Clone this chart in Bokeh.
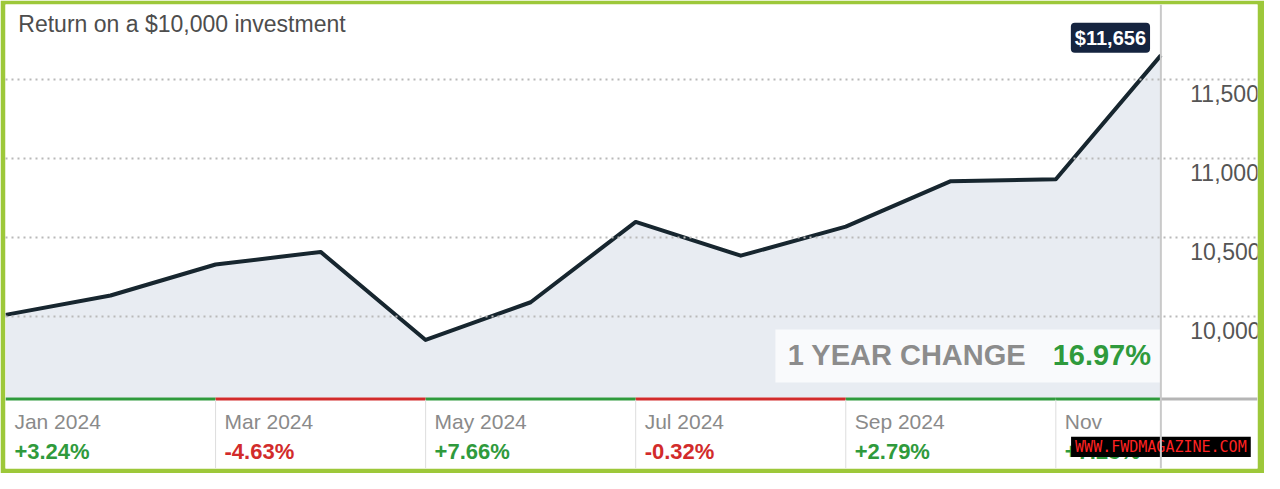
from bokeh.plotting import figure
from bokeh.models import Range1d, Grid, FixedTicker, Span, Label
from bokeh.core.properties import value
from bokeh.embed import file_html
from bokeh.resources import INLINE

# ---- data ----
month_index = [0, 1, 2, 3, 4, 5, 6, 7, 8, 9, 10, 11]
values = [10012, 10135, 10331, 10411, 9853, 10092, 10601, 10387, 10571, 10859, 10871, 11656]
y_ticks = [10000, 10500, 11000, 11500]
y_tick_labels = ["10,000", "10,500", "11,000", "11,500"]
period_labels = ["Jan 2024", "Mar 2024", "May 2024", "Jul 2024", "Sep 2024", "Nov"]
period_changes = ["+3.24%", "-4.63%", "+7.66%", "-0.32%", "+2.79%", "+7.23%"]
period_start = [0, 2, 4, 6, 8, 10]
period_end = [2, 4, 6, 8, 10, 11]
final_label = "$11,656"
year_change = "16.97%"
title_text = "Return on a $10,000 investment"
watermark = "WWW.FWDMAGAZINE.COM"

GREEN = "#2f9a3c"
RED = "#d22b2b"
FONT = "Liberation Sans"

X0, X1 = 0, 11.92
Y0, Y1 = 9039, 11978
BAND_TOP = 9488

p = figure(width=1264, height=473, output_backend="svg", toolbar_location=None,
           x_range=Range1d(X0, X1), y_range=Range1d(Y0, Y1),
           x_axis_location=None, y_axis_location=None,
           min_border_left=5, min_border_right=7, min_border_top=4, min_border_bottom=5)
p.border_fill_color = "#9dc83a"
p.background_fill_color = "white"
p.outline_line_color = None
p.grid.visible = False

# area + line
p.varea(x=month_index, y1=[BAND_TOP] * len(month_index), y2=values, fill_color="#e8ecf2")

grid = Grid(dimension=1, ticker=FixedTicker(ticks=y_ticks), grid_line_color="#b9b9b9",
            grid_line_dash="dotted", grid_line_width=2, level="guide")
p.add_layout(grid)

p.line(x=month_index, y=values, line_color="#17262f", line_width=4, line_join="round")

# latest-date divider
p.add_layout(Span(location=month_index[-1], dimension="height", line_color="#c9c9c9", line_width=2))

# y tick labels (right side, under grid line)
p.text(x=[11.28] * len(y_ticks), y=[t - 86 for t in y_ticks], text=y_tick_labels,
       text_font=value(FONT), text_font_size="23px", text_color="#555555",
       text_align="left", text_baseline="middle")

# period band
colors = [GREEN if c.startswith("+") else RED for c in period_changes]
band_y = BAND_TOP - 8
p.segment(x0=period_start, x1=period_end, y0=[band_y] * 6, y1=[band_y] * 6,
          line_color=colors, line_width=3)
p.segment(x0=[period_end[-1]], x1=[X1], y0=[band_y], y1=[band_y], line_color="#b5b5b5", line_width=3)
p.segment(x0=period_start[1:], x1=period_start[1:], y0=[band_y - 6] * 5, y1=[Y0] * 5,
          line_color="#dddddd", line_width=1)
lab_x = [s + 0.085 for s in period_start]
p.text(x=lab_x, y=[9338] * 6, text=period_labels, text_font=value(FONT),
       text_font_size="21px", text_color="#8a8a8a", text_baseline="middle")
p.text(x=lab_x, y=[9145] * 6, text=period_changes, text_font=value(FONT),
       text_font_size="22px", text_font_style="bold", text_color=colors, text_baseline="middle")

# 1 year change box
p.quad(left=[7.33], right=[11], bottom=[9583], top=[9920],
       fill_color="white", fill_alpha=0.72, line_color=None)
p.text(x=[7.447], y=[9761], text=["1 YEAR CHANGE"], text_font=value(FONT), text_font_size="29px",
       text_font_style="bold", text_color="#8c8c8c", text_baseline="middle")
p.text(x=[10.906], y=[9761], text=[year_change], text_font=value(FONT), text_font_size="29px",
       text_font_style="bold", text_color=GREEN, text_align="right", text_baseline="middle")

# title
p.text(x=[0.122], y=[11857], text=[title_text], text_font=value(FONT), text_font_size="23px",
       text_color="#4d4d4d", text_baseline="middle")

# final value tag
p.add_layout(Label(x=10.52, y=11768, text=final_label, text_font=FONT, text_font_size="20px",
                   text_font_style="bold", text_color="white", text_align="center",
                   text_baseline="middle", background_fill_color="#15243f",
                   padding=4, border_radius=4))

# watermark
p.quad(left=[10.145], right=[11.856], top=[9240], bottom=[9112], fill_color="black", line_color=None)
p.text(x=[11.0], y=[9176], text=[watermark], text_font=value("DejaVu Sans Mono"),
       text_font_size="15px", text_color="#ff2222", text_align="center", text_baseline="middle")

open("out.html", "w").write(file_html(p, INLINE))
